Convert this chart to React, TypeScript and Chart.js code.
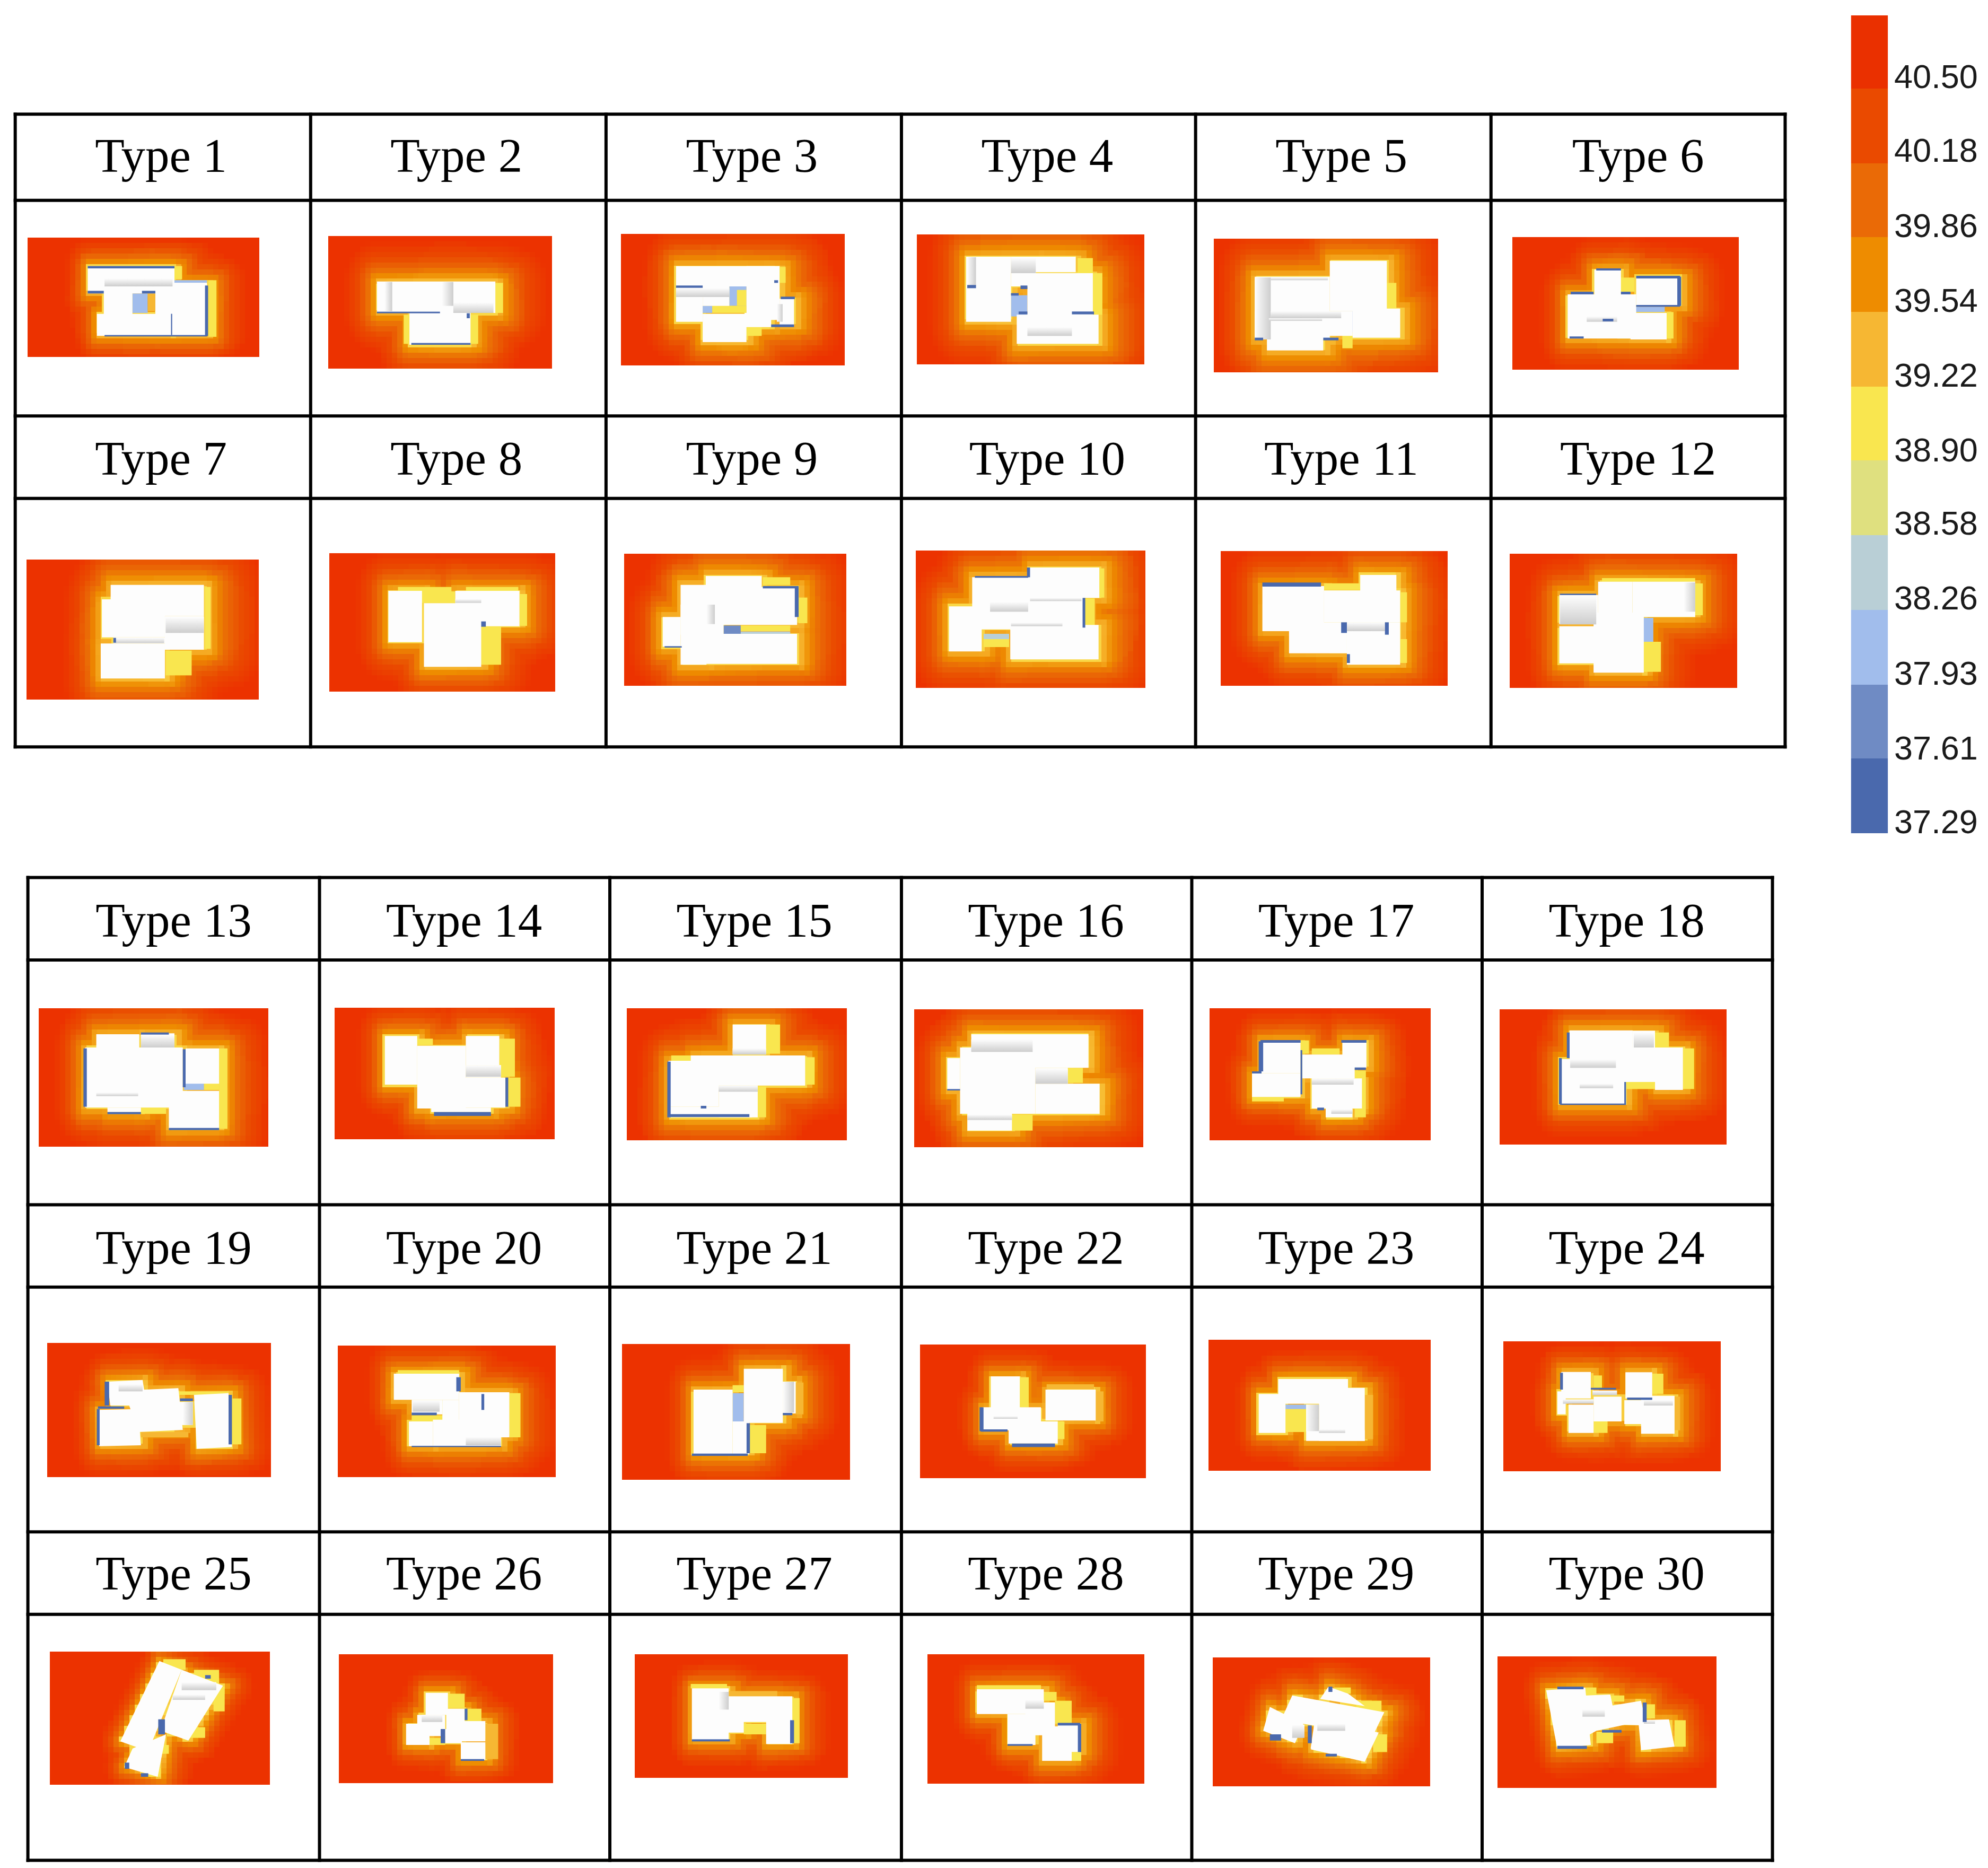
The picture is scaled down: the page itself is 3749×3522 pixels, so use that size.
import React, { useEffect, useRef } from "react";
import { Chart, registerables } from "chart.js";

Chart.register(...registerables);

// Reference size
const W = 3749;
const H = 3522;
const F = 3749 / 1568; // overview units to reference pixels

// ---- table grids (overview units)
const topColumns = [12, 245, 478, 711, 943, 1176, 1408];
const topRows = [90, 158, 328, 393, 589];
const bottomColumns = [22, 252, 481, 711, 940, 1169, 1398];
const bottomRows = [692, 757, 950, 1015, 1208, 1273, 1467];

const topLabelX = [127, 360, 593, 826, 1058, 1292];
const topLabelY = [125.5, 364.5];
const bottomLabelX = [137, 366, 595, 825, 1054, 1283];
const bottomLabelY = [728.5, 986.5, 1243.5];

// ---- colour scale
const scaleTicks = ["40.50", "40.18", "39.86", "39.54", "39.22", "38.90", "38.58", "38.26", "37.93", "37.61", "37.29"];
const scaleColors = ["#ea3000", "#ea4a00", "#ea6a06", "#ee8c00", "#f6b733", "#f9e64f", "#dfe07f", "#b9cfd6", "#a1bdec", "#6f8bc4", "#4a69ad"];
const scaleEdges = [12, 70, 129, 187, 246, 305, 363, 422, 481, 540, 598, 657];
const scaleTickY = [62, 120.5, 179.5, 238.5, 297.5, 356.5, 414.5, 473.5, 532.5, 591.5, 650];

// ---- measurement frames: [left, top, x factor, y factor]
const frames = [
  [30, 200, 1.388, 3], [1160, 400, 1.393, 3], [2260, 400, 1.393, 3],
  [30, 1020, 1.388, 3], [1160, 1020, 1.393, 3], [2260, 1020, 1.393, 3],
  [50, 1880, 0.95, 3], [1700, 1880, 0.95, 3],
  [50, 2510, 0.95, 3], [1700, 2510, 0.95, 3],
  [50, 3090, 0.95, 3], [1700, 3090, 0.95, 3],
];
const panelFrame = [0, 0, 1, 1, 2, 2, 3, 3, 4, 4, 5, 5, 6, 6, 6, 7, 7, 7, 8, 8, 8, 9, 9, 9, 10, 10, 10, 11, 11, 11];

const panels = [
  [30, 745, 637, 1420], [818, 735, 1403, 1485], [15, 122, 603, 868], [792, 125, 1390, 862], [40, 150, 630, 905], [825, 140, 1420, 890],
  [28, 105, 636, 898], [820, 70, 1412, 853], [23, 73, 608, 820], [790, 55, 1393, 830], [58, 58, 655, 820], [818, 72, 1415, 832],
  [22, 62, 433, 845], [552, 60, 946, 805], [1075, 62, 1470, 810], [23, 68, 433, 848], [552, 62, 948, 810], [1072, 68, 1478, 833],
  [37, 65, 438, 825], [558, 82, 948, 825], [1067, 72, 1475, 840], [33, 75, 438, 832], [550, 48, 948, 790], [1078, 58, 1468, 792],
  [42, 72, 436, 825], [560, 88, 943, 815], [1090, 88, 1472, 785], [47, 88, 435, 818], [558, 105, 947, 835], [1068, 100, 1460, 842],
];

const haloReach = [0.72, 1, 1, 1.15, 1.15, 0.85, 1.15, 1, 1.1, 1.15, 1, 1, 0.95, 0.85, 0.95, 1, 0.8, 0.85, 0.8, 0.85, 0.85, 0.75, 0.75, 0.75, 0.6, 0.62, 0.68, 0.75, 0.78, 0.75];

// footprints: four numbers are a box, more are a polygon
const buildings: number[][][] = [
  [[188, 905, 415, 1060], [230, 1020, 305, 1180], [212, 1175, 408, 1300], [365, 1000, 500, 1300], [408, 1000, 500, 1175]],
  [[945, 992, 1130, 1165], [1130, 992, 1255, 1170], [1030, 1165, 1190, 1350], [1110, 1130, 1180, 1200]],
  [[160, 305, 420, 420], [345, 305, 432, 610], [160, 420, 230, 620], [230, 575, 345, 735], [230, 420, 300, 530], [432, 490, 470, 640], [340, 570, 410, 650]],
  [[922, 252, 1040, 620], [1040, 252, 1210, 340], [1083, 345, 1255, 650], [1055, 580, 1270, 745], [1040, 252, 1105, 420]],
  [[345, 275, 495, 560], [148, 365, 345, 720], [405, 545, 530, 710], [180, 610, 328, 782], [148, 560, 405, 700]],
  [[1040, 325, 1110, 470], [970, 465, 1140, 715], [1150, 365, 1265, 530], [1135, 570, 1230, 720], [1110, 465, 1150, 600]],
  [[248, 248, 492, 425], [225, 330, 390, 545], [390, 425, 492, 615], [222, 580, 390, 778], [255, 545, 390, 580]],
  [[975, 282, 1063, 572], [1150, 282, 1318, 482], [1068, 352, 1218, 712]],
  [[172, 248, 240, 700], [238, 198, 385, 360], [260, 260, 478, 475], [178, 525, 478, 695], [125, 430, 172, 598], [172, 360, 285, 530]],
  [[1088, 150, 1272, 322], [938, 205, 1232, 500], [877, 370, 963, 625], [1038, 475, 1270, 670], [1175, 322, 1232, 495]],
  [[168, 255, 330, 510], [425, 192, 520, 300], [330, 280, 530, 460], [238, 460, 390, 635], [390, 460, 530, 700]],
  [[948, 305, 1050, 470], [948, 482, 1055, 692], [1050, 230, 1140, 405], [1140, 230, 1305, 430], [1038, 405, 1170, 745]],
  [[125, 210, 202, 540], [205, 205, 265, 285], [105, 285, 280, 625], [285, 290, 345, 490], [255, 530, 345, 745], [145, 625, 205, 650]],
  [[642, 220, 700, 495], [787, 220, 847, 385], [700, 275, 787, 630], [770, 455, 858, 625], [725, 625, 832, 650], [787, 385, 850, 455]],
  [[1265, 155, 1325, 325], [1190, 330, 1395, 500], [1150, 360, 1240, 620], [1240, 500, 1310, 680], [1150, 620, 1300, 680]],
  [[125, 210, 335, 400], [105, 285, 240, 660], [240, 490, 355, 660], [82, 345, 105, 525], [118, 660, 198, 755], [240, 400, 298, 490]],
  [[643, 245, 715, 430], [628, 430, 715, 565], [718, 325, 812, 460], [790, 245, 833, 400], [735, 460, 825, 630], [760, 495, 808, 680]],
  [[1197, 188, 1310, 350], [1310, 190, 1350, 290], [1197, 285, 1400, 480], [1350, 480, 1400, 525], [1180, 350, 1298, 608]],
  [[145, 285, 208, 275, 215, 420, 150, 420], [128, 445, 200, 440, 205, 645, 130, 650], [175, 335, 272, 322, 280, 558, 200, 570], [300, 360, 362, 350, 368, 655, 305, 665], [272, 400, 298, 530]],
  [[658, 240, 775, 388], [775, 345, 865, 600], [690, 388, 745, 470], [728, 500, 850, 650], [685, 510, 728, 650], [745, 388, 775, 510]],
  [[1285, 212, 1355, 518], [1195, 330, 1265, 695], [1265, 510, 1295, 695], [1355, 285, 1378, 465]],
  [[160, 255, 212, 485], [258, 330, 348, 505], [145, 430, 250, 560], [192, 510, 280, 635]],
  [[675, 270, 800, 410], [640, 355, 688, 575], [748, 320, 830, 620], [725, 415, 748, 565], [725, 560, 830, 620]],
  [[1182, 230, 1235, 380], [1297, 232, 1345, 380], [1175, 340, 1190, 470], [1195, 415, 1240, 575], [1240, 370, 1290, 510], [1295, 390, 1348, 525], [1325, 365, 1385, 580]],
  [[238, 125, 278, 175, 218, 635, 168, 580], [278, 175, 352, 265, 290, 575, 240, 520], [190, 620, 250, 540, 235, 780, 175, 725]],
  [[715, 305, 755, 430], [752, 395, 785, 510], [680, 480, 722, 600], [700, 430, 750, 550], [778, 465, 822, 580], [750, 510, 780, 590], [778, 585, 822, 685]],
  [[1192, 280, 1258, 575], [1245, 325, 1372, 470], [1215, 410, 1285, 530], [1325, 460, 1372, 595]],
  [[135, 285, 255, 425], [222, 360, 275, 545], [190, 425, 240, 600], [252, 495, 305, 690], [280, 480, 320, 640]],
  [[700, 320, 865, 415, 845, 545, 680, 460], [660, 385, 720, 480, 705, 590, 648, 520], [790, 480, 855, 530, 830, 695, 733, 625], [740, 470, 795, 495, 770, 640, 733, 620], [765, 270, 800, 310, 830, 380, 750, 340]],
  [[1155, 290, 1225, 275, 1235, 600, 1175, 622], [1225, 320, 1270, 315, 1280, 470, 1215, 470], [1238, 395, 1325, 350, 1335, 490, 1230, 480], [1200, 470, 1335, 460, 1245, 520, 1205, 590], [1320, 460, 1375, 455, 1385, 610, 1325, 630]],
];

// low-temperature patches beside the walls: box + scale colour index
const patches: number[][][] = [
  [[305, 1060, 345, 1170, 8], [345, 1060, 368, 1160, 4], [415, 905, 435, 980, 5], [415, 985, 500, 1000, 8], [503, 985, 525, 1305, 5], [368, 1155, 408, 1180, 5]],
  [[1110, 1170, 1190, 1200, 7], [1255, 1000, 1275, 1170, 5], [1015, 1180, 1030, 1345, 5], [1190, 1180, 1210, 1345, 5]],
  [[300, 420, 345, 530, 8], [320, 440, 345, 530, 5], [255, 530, 345, 570, 5], [230, 530, 255, 570, 8], [345, 650, 385, 700, 5], [432, 310, 448, 400, 5]],
  [[1040, 470, 1083, 590, 8], [1200, 520, 1258, 562, 7], [1215, 260, 1255, 345, 5], [1255, 345, 1280, 580, 5]],
  [[375, 560, 408, 680, 8], [378, 680, 405, 770, 5], [495, 400, 520, 545, 5]],
  [[1140, 535, 1225, 565, 8], [1100, 620, 1135, 715, 6], [1110, 370, 1145, 450, 5], [1230, 565, 1248, 715, 5]],
  [[392, 620, 460, 760, 5], [495, 260, 510, 610, 5]],
  [[1000, 260, 1140, 285, 5], [1178, 260, 1315, 285, 5], [1063, 285, 1150, 350, 5], [1218, 482, 1270, 700, 5], [1318, 300, 1338, 480, 5]],
  [[285, 478, 330, 530, 9], [330, 478, 460, 510, 5], [330, 512, 460, 525, 7], [388, 205, 460, 250, 5], [450, 435, 478, 470, 8], [482, 320, 505, 465, 5]],
  [[1235, 325, 1260, 490, 5], [968, 525, 1035, 555, 7], [968, 555, 1035, 600, 5], [1272, 155, 1285, 320, 5]],
  [[330, 285, 357, 345, 8], [342, 520, 388, 590, 7], [500, 460, 525, 530, 6], [330, 240, 425, 275, 5], [345, 590, 390, 635, 5], [530, 290, 548, 460, 5], [530, 555, 548, 690, 5]],
  [[1150, 435, 1195, 570, 8], [1060, 210, 1305, 230, 5], [1170, 570, 1215, 740, 5], [1305, 240, 1325, 420, 5]],
  [[282, 485, 318, 525, 8], [318, 485, 345, 525, 5], [345, 290, 360, 745, 5], [205, 625, 250, 660, 5]],
  [[700, 235, 728, 270, 5], [702, 280, 725, 320, 8], [847, 235, 875, 450, 5], [863, 455, 885, 620, 5]],
  [[1325, 155, 1350, 320, 5], [1310, 505, 1325, 680, 5], [1395, 340, 1412, 495, 5], [1155, 330, 1190, 360, 5]],
  [[198, 665, 235, 755, 5], [125, 205, 335, 225, 5], [298, 400, 325, 485, 5]],
  [[715, 245, 730, 320, 5], [735, 290, 785, 325, 5], [812, 415, 832, 680, 5], [628, 565, 685, 590, 5], [735, 460, 745, 630, 5]],
  [[1298, 480, 1350, 520, 5], [1400, 290, 1420, 520, 5], [1350, 200, 1375, 285, 5], [1280, 355, 1298, 480, 8]],
  [[205, 570, 290, 600, 4], [272, 340, 362, 360, 5], [368, 380, 385, 640, 5]],
  [[690, 475, 770, 510, 5], [665, 220, 775, 240, 5], [865, 350, 885, 600, 5], [745, 395, 765, 470, 5]],
  [[1265, 350, 1285, 510, 8], [1265, 305, 1285, 345, 5], [1295, 530, 1325, 690, 5], [1378, 290, 1392, 470, 4]],
  [[212, 260, 228, 430, 5], [348, 340, 362, 510, 4], [260, 300, 345, 328, 4], [280, 510, 292, 610, 5]],
  [[688, 415, 725, 570, 5], [688, 415, 725, 440, 8], [830, 360, 845, 610, 4]],
  [[1240, 250, 1255, 320, 5], [1345, 240, 1365, 355, 5], [1240, 510, 1265, 575, 5], [1385, 370, 1395, 560, 4]],
  [[245, 115, 285, 175, 5], [300, 175, 345, 260, 5], [335, 270, 355, 410, 5], [290, 500, 320, 560, 5], [235, 600, 255, 650, 5], [218, 730, 240, 780, 5]],
  [[755, 310, 785, 390, 5], [785, 395, 815, 470, 5], [720, 560, 750, 600, 5], [822, 480, 845, 680, 4]],
  [[1258, 295, 1345, 325, 4], [1285, 480, 1325, 540, 5], [1190, 255, 1255, 280, 5], [1372, 335, 1385, 590, 5]],
  [[255, 300, 278, 350, 5], [275, 350, 305, 480, 5], [135, 262, 250, 285, 5], [305, 640, 322, 690, 5]],
  [[775, 275, 805, 310, 5], [815, 350, 860, 410, 5], [845, 540, 870, 640, 5]],
  [[1225, 275, 1245, 320, 5], [1270, 320, 1295, 355, 5], [1330, 370, 1350, 450, 5], [1385, 460, 1405, 610, 5], [1245, 525, 1275, 590, 5]],
];

// grey self-shadowed roof areas
const shades: number[][][] = [
  [[232, 975, 410, 1020]],
  [[965, 995, 985, 1160], [1115, 995, 1145, 1130], [1145, 1110, 1250, 1170]],
  [[160, 430, 300, 480], [425, 520, 440, 620]],
  [[925, 255, 948, 415], [1040, 258, 1105, 345], [1083, 650, 1200, 700]],
  [[190, 368, 340, 385], [148, 370, 190, 720], [190, 560, 375, 600], [185, 600, 325, 615]],
  [[1020, 590, 1100, 620]],
  [[255, 548, 388, 578], [392, 430, 492, 520]],
  [[1150, 328, 1218, 350]],
  [[240, 360, 262, 470]],
  [[1090, 322, 1225, 340], [1040, 462, 1175, 482], [985, 345, 1085, 400]],
  [[390, 460, 490, 510]],
  [[950, 310, 1045, 472], [1275, 235, 1305, 400]],
  [[205, 215, 265, 285], [125, 540, 200, 560]],
  [[787, 385, 850, 450]],
  [[1240, 500, 1310, 535], [1265, 290, 1325, 325]],
  [[240, 405, 298, 490], [125, 240, 235, 310], [118, 665, 198, 695]],
  [[735, 460, 810, 495], [770, 635, 808, 660]],
  [[1198, 352, 1280, 400], [1215, 490, 1275, 515], [1312, 200, 1348, 285]],
  [[280, 400, 298, 530], [165, 300, 208, 340]],
  [[692, 392, 740, 455], [787, 598, 850, 645]],
  [[1355, 285, 1375, 460]],
  [[165, 480, 208, 495]],
  [[725, 415, 748, 565], [748, 555, 795, 575]],
  [[1238, 335, 1282, 362], [1185, 385, 1240, 410], [1330, 390, 1382, 420]],
  [[278, 245, 340, 290], [262, 315, 320, 345]],
  [[708, 430, 745, 470]],
  [[1240, 300, 1258, 400]],
  [[222, 345, 255, 395]],
  [[700, 485, 722, 560], [745, 480, 795, 520]],
  [[1220, 400, 1260, 440], [1330, 460, 1350, 480]],
];

// blue wall lines
const blueEdges: number[][][] = [
  [[188, 905, 415, 918], [188, 1045, 230, 1060], [330, 1045, 365, 1060], [495, 1015, 503, 1300], [232, 1295, 500, 1303], [406, 1175, 409, 1295]],
  [[945, 1163, 1110, 1172], [1035, 1340, 1190, 1350], [1180, 1172, 1188, 1200]],
  [[160, 415, 230, 428], [410, 635, 470, 650], [435, 478, 472, 492], [418, 385, 428, 400]],
  [[925, 412, 948, 430], [1040, 458, 1060, 472], [1065, 415, 1083, 435], [1060, 562, 1083, 578], [1200, 562, 1258, 578]],
  [[148, 710, 170, 725], [328, 710, 368, 725]],
  [[1045, 318, 1110, 330], [978, 450, 1038, 465], [1110, 450, 1135, 465], [1150, 360, 1265, 375], [1258, 365, 1268, 530], [1150, 525, 1265, 535], [975, 703, 1012, 715], [1062, 603, 1090, 618]],
  [[255, 548, 262, 575]],
  [[1218, 455, 1230, 485]],
  [[388, 255, 480, 268], [472, 255, 482, 430], [130, 595, 175, 603]],
  [[945, 198, 1085, 208], [1082, 150, 1090, 205], [1228, 322, 1235, 490]],
  [[168, 235, 322, 258], [490, 460, 500, 530], [390, 640, 398, 690], [375, 460, 390, 520]],
  [[950, 298, 1045, 306]],
  [[102, 290, 108, 620], [280, 295, 285, 510], [145, 650, 205, 662], [255, 740, 345, 752], [205, 200, 255, 212]],
  [[730, 650, 832, 672], [858, 455, 863, 620]],
  [[1148, 365, 1154, 680], [1150, 662, 1295, 678], [1208, 615, 1218, 630]],
  [[82, 520, 105, 528]],
  [[643, 243, 715, 258], [788, 243, 833, 258], [640, 250, 648, 420], [628, 420, 645, 432], [812, 398, 832, 412], [715, 300, 718, 550], [745, 625, 757, 640]],
  [[1192, 200, 1197, 345], [1178, 345, 1183, 605], [1295, 480, 1298, 605], [1180, 602, 1298, 610]],
  [[140, 285, 148, 420], [128, 425, 175, 438], [126, 440, 131, 645], [275, 380, 298, 395], [362, 360, 368, 640]],
  [[770, 260, 778, 340], [690, 460, 735, 475], [690, 648, 850, 655], [815, 355, 820, 445]],
  [[1192, 692, 1292, 705], [1290, 520, 1296, 690], [1355, 462, 1372, 475]],
  [[140, 430, 147, 565], [142, 555, 190, 568], [198, 635, 275, 655]],
  [],
  [[1180, 235, 1185, 330], [1235, 320, 1280, 330], [1300, 375, 1345, 388]],
  [[176, 700, 184, 735], [205, 760, 218, 780], [320, 205, 330, 225], [236, 455, 248, 540]],
  [[778, 680, 820, 690], [785, 395, 790, 460], [742, 510, 750, 590]],
  [[1192, 568, 1260, 580], [1368, 460, 1375, 590]],
  [[280, 475, 320, 490], [316, 480, 322, 640], [190, 595, 235, 605]],
  [[765, 270, 772, 300], [660, 540, 680, 575], [760, 650, 780, 665], [728, 490, 735, 590]],
  [[1175, 270, 1222, 285], [1175, 605, 1228, 622], [1255, 515, 1290, 530], [1328, 360, 1335, 470]],
];

// ---- helpers
const toRef = (frame: number[], x: number, y: number): [number, number] => [frame[0] + x / frame[2], frame[1] + y / frame[3]];

const outline = (b: number[]): number[] =>
  b.length === 4 ? [b[0], b[1], b[2], b[1], b[2], b[3], b[0], b[3]] : b;

function nearest(px: number, py: number, poly: number[][]): { inside: boolean; dx: number; dy: number } {
  let inside = false;
  let best = Infinity;
  let dx = 0;
  let dy = 0;
  for (let i = 0, j = poly.length - 1; i < poly.length; j = i++) {
    const [ax, ay] = poly[j];
    const [bx, by] = poly[i];
    if (by > py !== ay > py && px < ((ax - bx) * (py - by)) / (ay - by) + bx) inside = !inside;
    const lx = bx - ax;
    const ly = by - ay;
    const t = Math.max(0, Math.min(1, ((px - ax) * lx + (py - ay) * ly) / (lx * lx + ly * ly || 1)));
    const ex = px - (ax + t * lx);
    const ey = py - (ay + t * ly);
    const d = ex * ex + ey * ey;
    if (d < best) {
      best = d;
      dx = ex;
      dy = ey;
    }
  }
  return { inside, dx, dy };
}

const rampStops: [number, number[]][] = [
  [0, [249, 215, 70]],
  [6, [246, 175, 40]],
  [15, [238, 140, 0]],
  [28, [234, 106, 6]],
  [48, [234, 74, 0]],
  [80, [236, 50, 0]],
];

function ramp(d: number): string {
  for (let i = 1; i < rampStops.length; i++) {
    if (d <= rampStops[i][0]) {
      const [a, ca] = rampStops[i - 1];
      const [b, cb] = rampStops[i];
      const t = (d - a) / (b - a);
      return `rgb(${ca.map((c, k) => Math.round(c + (cb[k] - c) * t)).join(",")})`;
    }
  }
  return "rgb(236,50,0)";
}

const paintPanels = {
  id: "paintPanels",
  beforeDatasetsDraw(chart: any) {
    const ctx: CanvasRenderingContext2D = chart.ctx;
    const X = (v: number) => chart.scales.x.getPixelForValue(v);
    const Y = (v: number) => chart.scales.y.getPixelForValue(v);
    ctx.save();
    ctx.fillStyle = "#ffffff";
    ctx.fillRect(0, 0, W, H);

    panels.forEach((p, i) => {
      const frame = frames[panelFrame[i]];
      const [x0, y0] = toRef(frame, p[0], p[1]);
      const [x1, y1] = toRef(frame, p[2], p[3]);
      const polys = buildings[i].map((b) => {
        const o = outline(b);
        const pts: number[][] = [];
        for (let k = 0; k < o.length; k += 2) pts.push(toRef(frame, o[k], o[k + 1]));
        return pts;
      });
      // blocky temperature cells
      const cw = 10;
      const ch = 10;
      for (let cy = y0; cy < y1; cy += ch) {
        for (let cx = x0; cx < x1; cx += cw) {
          const px = cx + cw / 2;
          const py = cy + ch / 2;
          let d = Infinity;
          let near = 0;
          for (const poly of polys) {
            const n = nearest(px, py, poly);
            const kx = n.dx > 0 ? 0.8 : 1.2;
            let e = n.inside ? 0 : Math.hypot(n.dx * kx, n.dy);
            if (!n.inside) {
              if (n.dx < 0 && Math.abs(n.dx) > Math.abs(n.dy)) e += 6;
              else if (Math.abs(n.dy) > Math.abs(n.dx)) e += 5;
            }
            if (e < d) d = e;
            if (e < 80) near++;
          }
          const crowd = 1 + Math.min(Math.max(near - 1, 0), 3) * 0.07;
          ctx.fillStyle = ramp(d / (haloReach[i] * crowd));
          const l = Math.round(X(cx));
          const t = Math.round(Y(cy));
          const r = Math.round(X(Math.min(cx + cw, x1)));
          const u = Math.round(Y(Math.min(cy + ch, y1)));
          ctx.fillRect(l, t, r - l, u - t);
        }
      }
      const box = (b: number[], color: string | CanvasGradient) => {
        const [a, c] = toRef(frame, b[0], b[1]);
        const [e, f] = toRef(frame, b[2], b[3]);
        ctx.fillStyle = color;
        ctx.fillRect(X(a), Y(c), X(e) - X(a), Y(f) - Y(c));
      };
      patches[i].forEach((b) => box(b, scaleColors[b[4]]));
      ctx.fillStyle = "#fdfdfd";
      polys.forEach((poly) => {
        ctx.beginPath();
        poly.forEach(([a, b], k) => (k ? ctx.lineTo(X(a), Y(b)) : ctx.moveTo(X(a), Y(b))));
        ctx.closePath();
        ctx.fill();
      });
      shades[i].forEach((b) => {
        const [a, c] = toRef(frame, b[0], b[1]);
        const [e, f] = toRef(frame, b[2], b[3]);
        const vertical = e - a < (f - c) * 0.6;
        const g = vertical
          ? ctx.createLinearGradient(X(a), 0, X(e), 0)
          : ctx.createLinearGradient(0, Y(c), 0, Y(f));
        g.addColorStop(0, "#fdfdfd");
        g.addColorStop(1, "#cdcdcd");
        box(b, g);
      });
      blueEdges[i].forEach((b) => box(b, scaleColors[10]));
    });

    // colour scale
    scaleColors.forEach((c, i) => {
      ctx.fillStyle = c;
      const t = Math.round(Y(scaleEdges[i] * F));
      const b = Math.round(Y(scaleEdges[i + 1] * F));
      ctx.fillRect(X(1460 * F), t, X(1489 * F) - X(1460 * F), b - t);
    });
    ctx.fillStyle = "#1a1a1a";
    ctx.font = '63px "Liberation Sans"';
    ctx.textAlign = "left";
    ctx.textBaseline = "middle";
    scaleTicks.forEach((s, i) => ctx.fillText(s, X(1494 * F), Y(scaleTickY[i] * F)));

    // table headers
    ctx.fillStyle = "#000000";
    ctx.font = '91px "Liberation Serif"';
    ctx.textAlign = "center";
    let n = 1;
    topLabelY.forEach((y) =>
      topLabelX.forEach((x) => ctx.fillText(`Type ${n++}`, X(x * F), Y(y * F)))
    );
    bottomLabelY.forEach((y) =>
      bottomLabelX.forEach((x) => ctx.fillText(`Type ${n++}`, X(x * F), Y(y * F)))
    );
    ctx.restore();
  },
};

function gridLines(columns: number[], rows: number[]) {
  const lines: { x: number; y: number }[][] = [];
  columns.forEach((c) => lines.push([{ x: c * F, y: rows[0] * F }, { x: c * F, y: rows[rows.length - 1] * F }]));
  rows.forEach((r) => lines.push([{ x: columns[0] * F, y: r * F }, { x: columns[columns.length - 1] * F, y: r * F }]));
  return lines;
}

export default function App() {
  const ref = useRef<HTMLCanvasElement>(null);
  useEffect(() => {
    document.body.style.margin = "0";
    const all = [...gridLines(topColumns, topRows), ...gridLines(bottomColumns, bottomRows)];
    const chart = new Chart(ref.current as HTMLCanvasElement, {
      type: "scatter",
      data: {
        datasets: all.map((d) => ({
          data: d,
          showLine: true,
          borderColor: "#000000",
          borderWidth: 6,
          borderCapStyle: "square",
          pointRadius: 0,
        })),
      } as any,
      options: {
        animation: false,
        responsive: false,
        devicePixelRatio: 1,
        layout: { padding: 0 },
        plugins: { legend: { display: false }, tooltip: { enabled: false } },
        scales: {
          x: { type: "linear", min: 0, max: W, display: false },
          y: { type: "linear", min: 0, max: H, reverse: true, display: false },
        },
      },
      plugins: [paintPanels],
    } as any);
    return () => chart.destroy();
  }, []);
  return <canvas ref={ref} width={W} height={H} style={{ display: "block", width: W, height: H }} />;
}
